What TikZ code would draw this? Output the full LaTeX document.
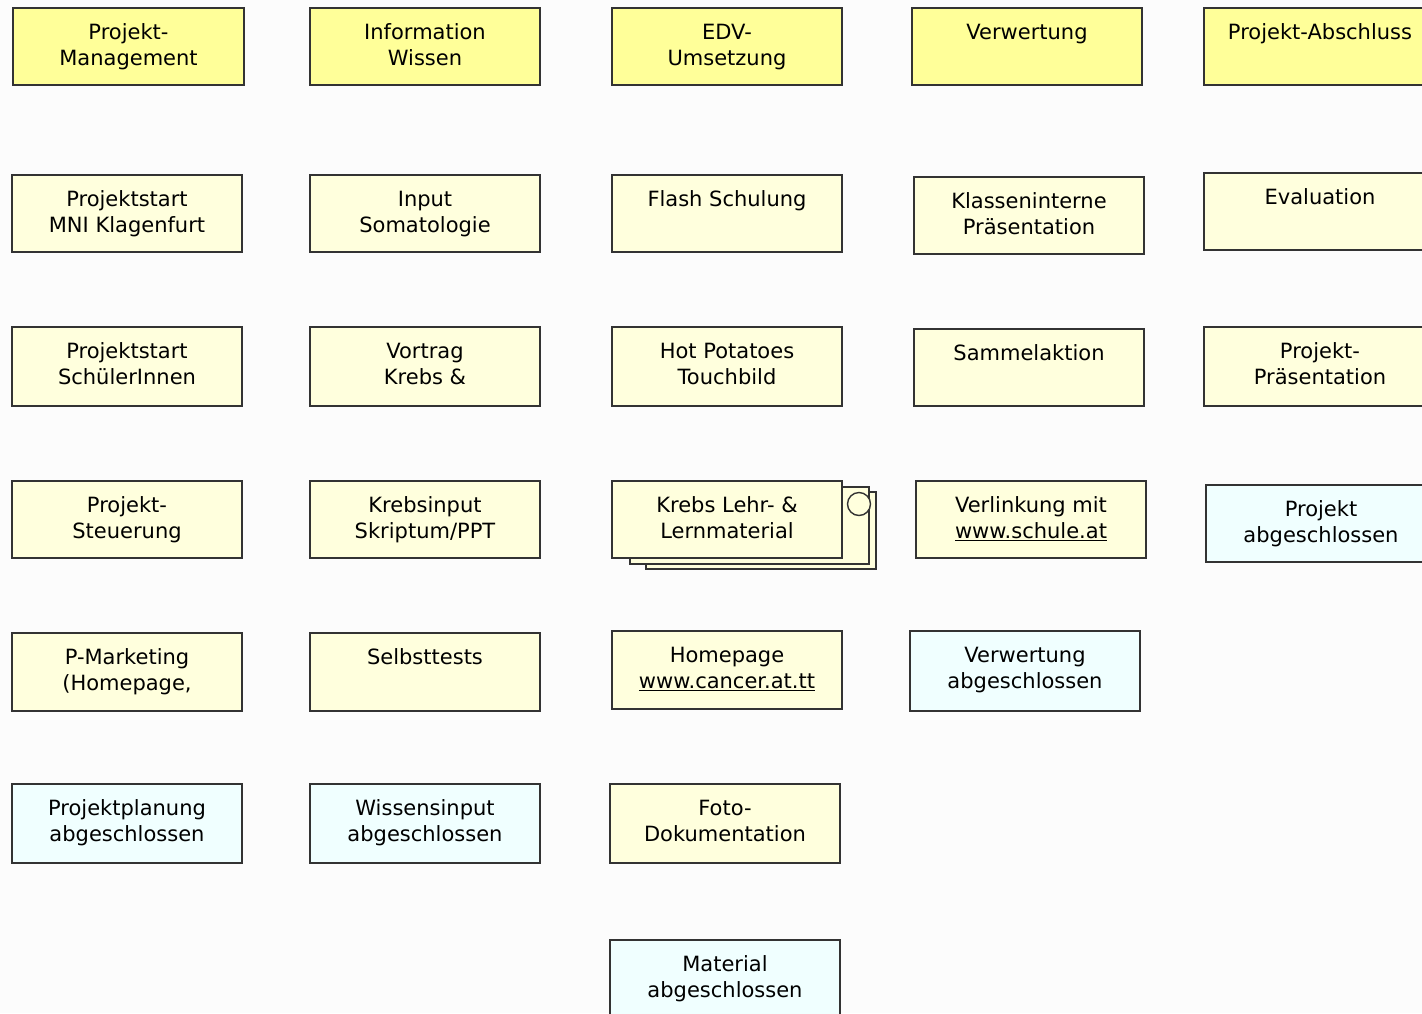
\documentclass[tikz,border=0pt]{standalone}
\usepackage{fontspec}
\setmainfont{DejaVu Sans}
\usetikzlibrary{fit,calc}
\definecolor{hdr}{HTML}{FFFF99}
\definecolor{pale}{HTML}{FFFFDD}
\definecolor{cyanpale}{HTML}{F0FFFF}
\definecolor{edge}{HTML}{333333}
\definecolor{bg}{HTML}{FCFCFC}
\tikzset{
  boxbase/.style={draw=edge, line width=1.6pt, rectangle, inner sep=0pt},
  hdrbox/.style={boxbase, fill=hdr},
  palebox/.style={boxbase, fill=pale},
  donebox/.style={boxbase, fill=cyanpale},
  txt/.style={inner sep=0pt, align=center, text=black, font=\fontsize{21}{26.5}\selectfont}
}
\newcommand\mybox[7]{%
  \path (#3,#4) coordinate (#1-a) (#5,#6) coordinate (#1-b);
  \node[#2, fit=(#1-a)(#1-b)] (#1) {};
  \node[txt, anchor=north] (#1-t) at ($(#1-a)!0.5!(#5,#4)+(0,12.5)$) {\strut #7};
}
\begin{document}
\begin{tikzpicture}[x=1pt,y=-1pt]
\clip (0,0) rectangle (1422,1013);
\fill[bg] (0,0) rectangle (1422,1013);
% row 1
\mybox{pm}{hdrbox}{13}{8}{244}{85}{Projekt-\\Management}
\mybox{iw}{hdrbox}{310}{8}{540}{85}{Information\\Wissen}
\mybox{edv}{hdrbox}{612}{8}{842}{85}{EDV-\\Umsetzung}
\mybox{ver}{hdrbox}{912}{8}{1142}{85}{Verwertung}
\mybox{pa}{hdrbox}{1204}{8}{1640}{85}{}
\node[txt, anchor=north] (pa-text) at (1320,20.5) {\strut Projekt-Abschluss};
% row 2
\mybox{mni}{palebox}{12}{175}{242}{252}{Projektstart\\MNI Klagenfurt}
\mybox{som}{palebox}{310}{175}{540}{252}{Input\\Somatologie}
\mybox{fla}{palebox}{612}{175}{842}{252}{Flash Schulung}
\mybox{kla}{palebox}{914}{177}{1144}{254}{Klasseninterne\\Präsentation}
\mybox{eva}{palebox}{1204}{173}{1640}{250}{}
\node[txt, anchor=north] (eva-text) at (1320,185.5) {\strut Evaluation};
% row 3
\mybox{sch}{palebox}{12}{327}{242}{406}{Projektstart\\SchülerInnen}
\mybox{vor}{palebox}{310}{327}{540}{406}{Vortrag\\Krebs \&}
\mybox{hot}{palebox}{612}{327}{842}{406}{Hot Potatoes\\Touchbild}
\mybox{sam}{palebox}{914}{329}{1144}{406}{Sammelaktion}
\mybox{pp}{palebox}{1204}{327}{1640}{406}{}
\node[txt, anchor=north] (pp-text) at (1320,339.5) {\strut Projekt-\\Präsentation};
% row 4
\mybox{ste}{palebox}{12}{481}{242}{558}{Projekt-\\Steuerung}
\mybox{skr}{palebox}{310}{481}{540}{558}{Krebsinput\\Skriptum/PPT}
\mybox{lay3}{palebox}{646}{492}{876}{569}{}
\mybox{lay2}{palebox}{630}{487}{869}{564}{}
\mybox{leh}{palebox}{612}{481}{842}{558}{Krebs Lehr- \&\\Lernmaterial}
\node[circle, draw=edge, line width=1.4pt, fill=pale, minimum size=23pt, inner sep=0pt] (ring) at (859,504) {};
\mybox{lin}{palebox}{916}{481}{1146}{558}{Verlinkung mit\\\underline{www.schule.at}}
\mybox{pab}{donebox}{1206}{485}{1640}{562}{}
\node[txt, anchor=north] (pab-text) at (1321,497.5) {\strut Projekt\\abgeschlossen};
% row 5
\mybox{mar}{palebox}{12}{633}{242}{711}{P-Marketing\\(Homepage,}
\mybox{sel}{palebox}{310}{633}{540}{711}{Selbsttests}
\mybox{hom}{palebox}{612}{631}{842}{709}{Homepage\\\underline{www.cancer.at.tt}}
\mybox{vab}{donebox}{910}{631}{1140}{711}{Verwertung\\abgeschlossen}
% row 6
\mybox{ppl}{donebox}{12}{784}{242}{863}{Projektplanung\\abgeschlossen}
\mybox{wab}{donebox}{310}{784}{540}{863}{Wissensinput\\abgeschlossen}
\mybox{fot}{palebox}{610}{784}{840}{863}{Foto-\\Dokumentation}
% row 7
\mybox{mab}{donebox}{610}{940}{840}{1100}{Material\\abgeschlossen}
\end{tikzpicture}
\end{document}
